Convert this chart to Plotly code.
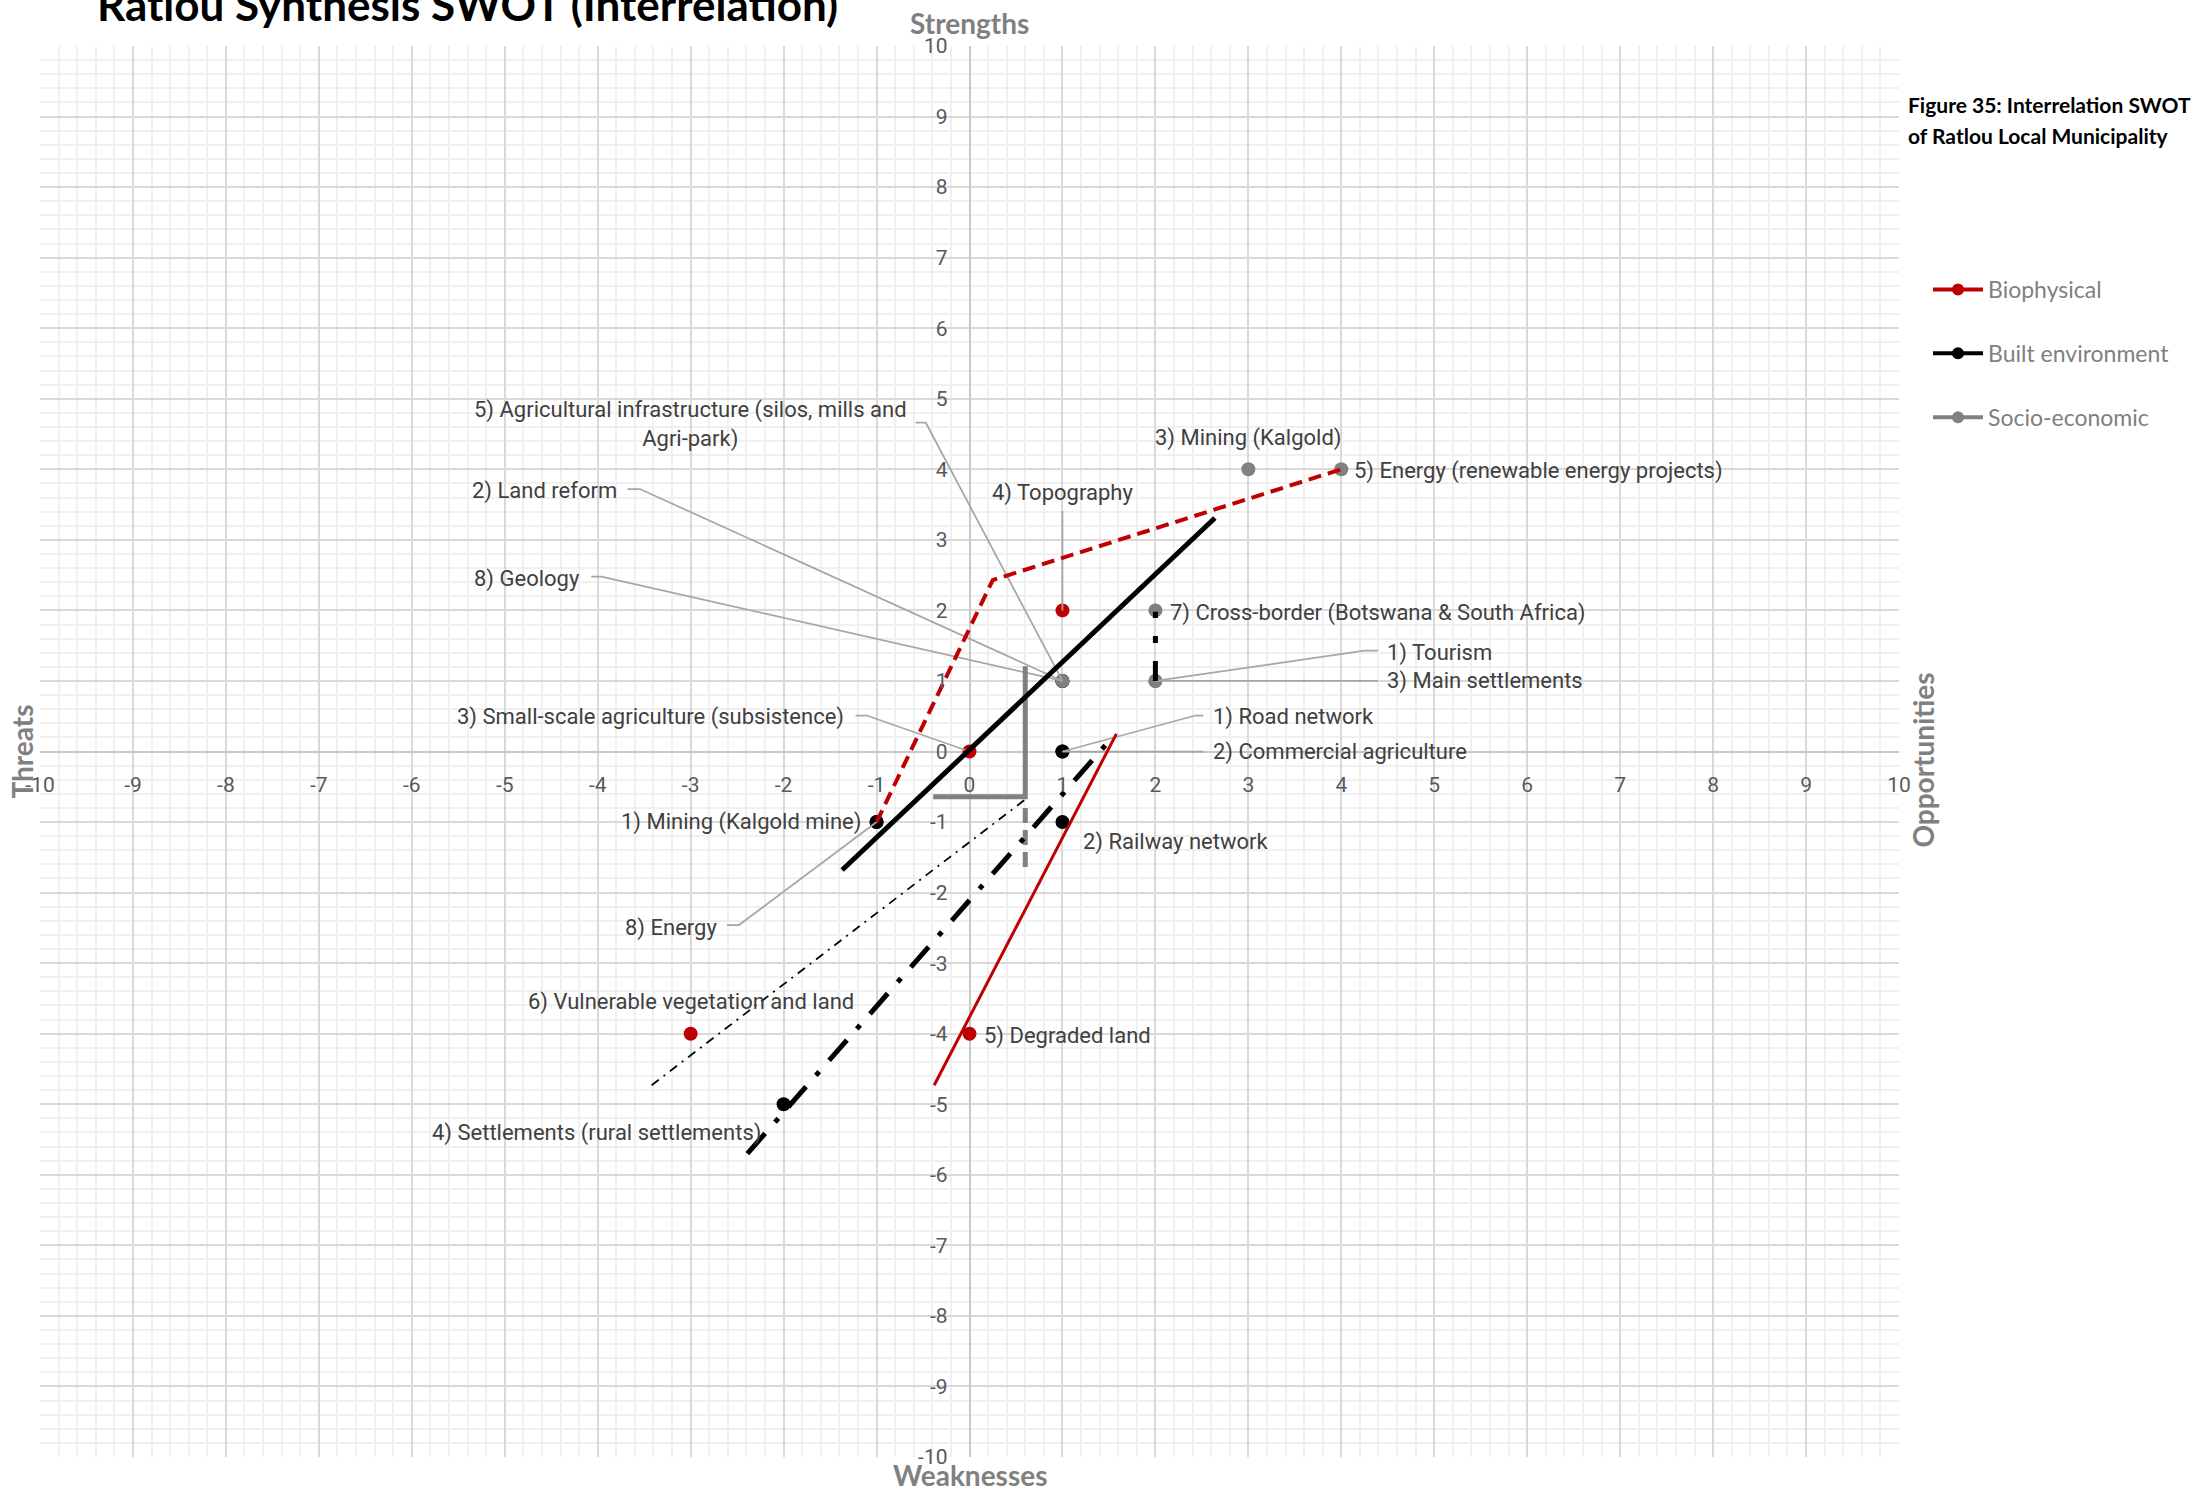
"""SWOT interrelation chart for Ratlou (Plotly)."""
import plotly.graph_objects as go

RED = "#c00000"
BLACK = "#000000"
GREY = "#808080"
LEADER = "#a6a6a6"
LABEL_FONT = "Liberation Sans Narrow, Roboto, sans-serif"
HEAD_FONT = "Lato, sans-serif"

# --- points per category (x = weakness/opportunity, y = threat/strength)
bio_names = ["4) Topography", "3) Small-scale agriculture (subsistence)",
             "6) Vulnerable vegetation and land", "5) Degraded land",
             "8) Geology"]
bio_x = [1, 0, -3, 0, 1]
bio_y = [2, 0, -4, -4, 1]

built_names = ["1) Mining (Kalgold mine)", "8) Energy", "1) Road network",
               "2) Commercial agriculture", "2) Railway network",
               "4) Settlements (rural settlements)",
               "5) Agricultural infrastructure (silos, mills and<br>Agri-park)"]
built_x = [-1, -1, 1, 1, 1, -2, 1]
built_y = [-1, -1, 0, 0, -1, -5, 1]

socio_names = ["3) Mining (Kalgold)", "5) Energy (renewable energy projects)",
               "7) Cross-border (Botswana & South Africa)", "1) Tourism",
               "3) Main settlements", "2) Land reform"]
socio_x = [3, 4, 2, 2, 2, 1]
socio_y = [4, 4, 2, 1, 1, 1]

# --- interrelation lines
bio_dash_x = [-1, 0.25, 4]
bio_dash_y = [-1, 2.43, 4]
bio_solid_x = [-0.38, 1.58]
bio_solid_y = [-4.73, 0.25]
built_solid_x = [-1.37, 2.64]
built_solid_y = [-1.68, 3.31]
built_dashdot_x = [-2.39, 1.53]
built_dashdot_y = [-5.70, 0.19]
built_thin_x = [-3.42, 0.6]
built_thin_y = [-4.73, -0.68]
built_short_x = [2, 2]
built_short_y = [1, 1.98]
socio_l_x = [-0.39, 0.6, 0.6]
socio_l_y = [-0.64, -0.64, 1.21]
socio_dash_x = [0.6, 0.6]
socio_dash_y = [-0.8, -1.67]

# axis ticks (hyphen minus, as in the source)
tick_vals = [-10, -9, -8, -7, -6, -5, -4, -3, -2, -1, 0,
             1, 2, 3, 4, 5, 6, 7, 8, 9, 10]
tick_text = ["-10", "-9", "-8", "-7", "-6", "-5", "-4", "-3", "-2", "-1", "0",
             "1", "2", "3", "4", "5", "6", "7", "8", "9", "10"]

# --- label placement: name -> (x, y, xanchor, leader elbow points)
label_pos = {
    "4) Topography": (1.0, 3.66, "center", [(1.0, 3.41)]),
    "3) Small-scale agriculture (subsistence)": (-1.33, 0.49, "right", [(-1.225, 0.51), (-1.105, 0.51)]),
    "6) Vulnerable vegetation and land": (-3.0, -3.55, "center", []),
    "5) Degraded land": (0.13, -4.03, "left", []),
    "8) Geology": (-4.17, 2.44, "right", [(-4.07, 2.48), (-3.96, 2.48)]),
    "1) Mining (Kalgold mine)": (-1.15, -1.0, "right", []),
    "8) Energy": (-2.7, -2.5, "right", [(-2.61, -2.46), (-2.48, -2.46)]),
    "1) Road network": (2.6, 0.49, "left", [(2.515, 0.51), (2.43, 0.51)]),
    "2) Commercial agriculture": (2.6, 0.0, "left", [(2.515, 0.0)]),
    "2) Railway network": (1.2, -1.28, "left", []),
    "4) Settlements (rural settlements)": (-2.22, -5.41, "right", []),
    "5) Agricultural infrastructure (silos, mills and<br>Agri-park)": (-3.0, 4.64, "center", [(-0.58, 4.66), (-0.47, 4.66)]),
    "3) Mining (Kalgold)": (3.0, 4.45, "center", []),
    "5) Energy (renewable energy projects)": (4.12, 3.97, "left", []),
    "7) Cross-border (Botswana & South Africa)": (2.14, 1.97, "left", []),
    "1) Tourism": (4.47, 1.40, "left", [(4.395, 1.43), (4.25, 1.43)]),
    "3) Main settlements": (4.47, 1.0, "left", [(4.395, 1.0)]),
    "2) Land reform": (-3.77, 3.69, "right", [(-3.68, 3.72), (-3.545, 3.72)]),
}

fig = go.Figure()

# legend entries
for name, color in [("Biophysical", RED), ("Built environment", BLACK),
                    ("Socio-economic", GREY)]:
    fig.add_trace(go.Scatter(x=[None], y=[None], mode="lines+markers", name=name,
                             legendgroup=name, line=dict(color=color, width=4),
                             marker=dict(color=color, size=12)))

# points
for xs, ys, color in [(bio_x, bio_y, RED), (built_x, built_y, BLACK),
                      (socio_x, socio_y, GREY)]:
    fig.add_trace(go.Scatter(x=xs, y=ys, mode="markers", showlegend=False,
                             hoverinfo="skip", marker=dict(color=color, size=14)))

# leader lines
all_pts = {}
for names, xs, ys in [(bio_names, bio_x, bio_y), (built_names, built_x, built_y),
                      (socio_names, socio_x, socio_y)]:
    for n, px, py in zip(names, xs, ys):
        all_pts[n] = (px, py)
for n, (lx, ly, anchor, elbow) in label_pos.items():
    if not elbow:
        continue
    px, py = all_pts[n]
    path = elbow + [(px, py)]
    fig.add_trace(go.Scatter(x=[p[0] for p in path], y=[p[1] for p in path],
                             mode="lines", showlegend=False, hoverinfo="skip",
                             line=dict(color=LEADER, width=1.75)))

# interrelation lines
lines = [
    (socio_l_x, socio_l_y, GREY, 5, "solid"),
    (socio_dash_x, socio_dash_y, GREY, 5, "15px,7px"),
    (built_thin_x, built_thin_y, BLACK, 1.75, "9px,6px,2px,6px"),
    (built_dashdot_x, built_dashdot_y, BLACK, 5, "27px,15px,5px,15px"),
    (built_solid_x, built_solid_y, BLACK, 5, "solid"),
    (built_short_x, built_short_y, BLACK, 5, "20px,18px,7px,18px"),
    (bio_solid_x, bio_solid_y, RED, 3, "solid"),
    (bio_dash_x, bio_dash_y, RED, 4, "13px,7px"),
]
for xs, ys, color, w, dash in lines:
    fig.add_trace(go.Scatter(x=xs, y=ys, mode="lines", showlegend=False,
                             hoverinfo="skip",
                             line=dict(color=color, width=w, dash=dash)))

# point labels
for n, (lx, ly, anchor, elbow) in label_pos.items():
    fig.add_annotation(x=lx, y=ly, xref="x", yref="y", text=n, showarrow=False,
                       xanchor=anchor, yanchor="middle", align="center",
                       font=dict(family=LABEL_FONT, size=22, color="#404040"))

# titles
fig.add_annotation(x=0.0296, y=1.0297, xref="paper", yref="paper",
                   text="Ratlou Synthesis SWOT (Interrelation)", showarrow=False,
                   xanchor="left", yanchor="middle",
                   font=dict(family=HEAD_FONT, size=44, color="black", weight="bold"))
fig.add_annotation(x=1.0036, y=(1457 - 105) / 1411, xref="paper", yref="paper",
                   text="Figure 35: Interrelation SWOT", showarrow=False,
                   xanchor="left", yanchor="middle",
                   font=dict(family=HEAD_FONT, size=21, color="black", weight="bold"))
fig.add_annotation(x=1.0036, y=(1457 - 135) / 1411, xref="paper", yref="paper",
                   text="of Ratlou Local Municipality", showarrow=False,
                   xanchor="left", yanchor="middle",
                   font=dict(family=HEAD_FONT, size=21, color="black", weight="bold"))
axis_font = dict(family=HEAD_FONT, size=28, color=GREY, weight="bold")
fig.add_annotation(x=0, y=1.0161, xref="x", yref="paper", text="Strengths",
                   xanchor="center", yanchor="middle",
                   showarrow=False, font=axis_font)
fig.add_annotation(x=0, y=-0.0125, xref="x", yref="paper", text="Weaknesses",
                   xanchor="center", yanchor="middle",
                   showarrow=False, font=axis_font)
fig.add_annotation(x=-0.0102, y=0.5, xref="paper", yref="paper", text="Threats",
                   xanchor="center", yanchor="middle",
                   showarrow=False, textangle=-90, font=axis_font)
fig.add_annotation(x=1.0127, y=0.494, xref="paper", yref="paper",
                   text="Opportunities", showarrow=False, textangle=-90,
                   xanchor="center", yanchor="middle", font=axis_font)

tick_font = dict(family=LABEL_FONT, size=21, color="#595959")
common = dict(range=[-10, 10], tickmode="array", tickvals=tick_vals,
              ticktext=tick_text, showgrid=True, gridcolor="#d9d9d9",
              gridwidth=2, zeroline=True, zerolinecolor="#c8c8c8",
              zerolinewidth=2, showline=False, ticks="", tickfont=tick_font,
              anchor="free", position=0.5, fixedrange=True,
              minor=dict(dtick=0.2, showgrid=True, gridcolor="#f0f0f0",
                         gridwidth=1.5))
fig.update_xaxes(**common, ticklabelstandoff=18)
fig.update_yaxes(**common, ticklabelstandoff=22)

fig.update_layout(
    width=2201, height=1494,
    margin=dict(l=40, r=302, t=46, b=37),
    plot_bgcolor="white", paper_bgcolor="white",
    legend=dict(x=1.0156, y=(1457 - 268) / 1411, xanchor="left", yanchor="top",
                font=dict(family=HEAD_FONT, size=23, color=GREY),
                tracegroupgap=31, itemwidth=50, bgcolor="rgba(0,0,0,0)"),
)

fig.write_html("out.html", config={"displayModeBar": False},
               post_script="document.body.style.margin='0';")
